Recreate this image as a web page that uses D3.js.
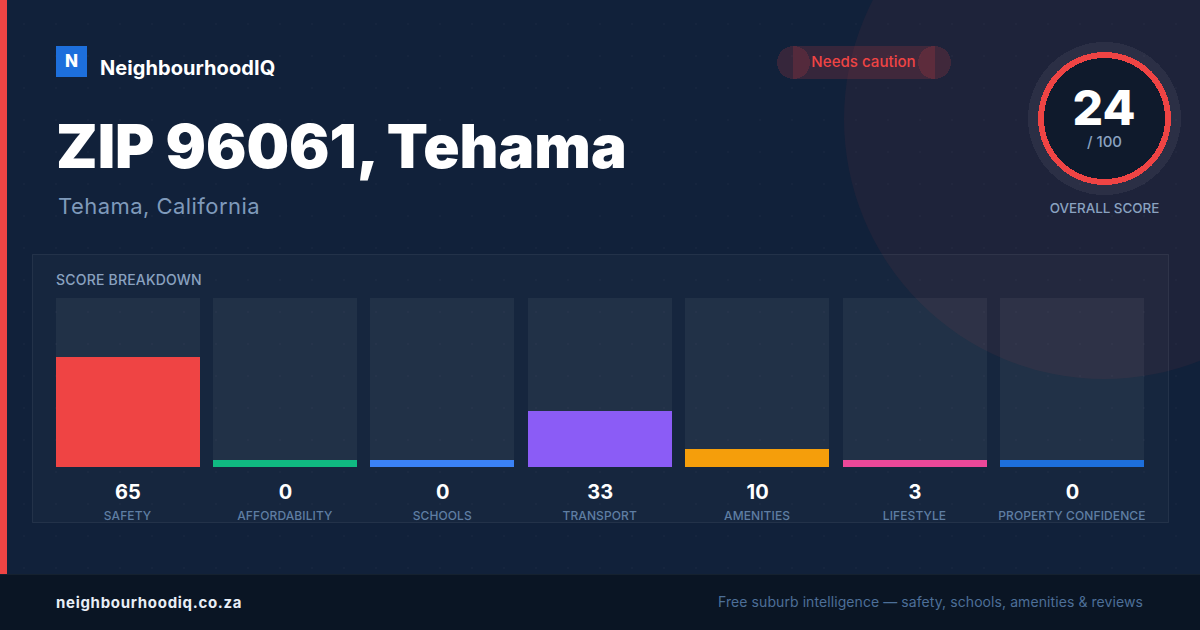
<!DOCTYPE html>
<html>
<head>
<meta charset="utf-8">
<script src="https://cdn.jsdelivr.net/npm/d3@7"></script>
<style>
  html, body { margin: 0; padding: 0; background: #12213a; overflow: hidden; }
  text { font-family: Inter, sans-serif; }
</style>
</head>
<body>
<div id="chart"></div>
<script>
// DATA
const categories = ['SAFETY', 'AFFORDABILITY', 'SCHOOLS', 'TRANSPORT', 'AMENITIES', 'LIFESTYLE', 'PROPERTY CONFIDENCE'];
// amenities bar reads a bit over its printed 10
const scores = [65, 0, 0, 33, 10.4, 3, 0];
const barColors = ['#ef4444', '#10b981', '#3b82f6', '#8b5cf6', '#f59e0b', '#ec4899', '#1d6fdc'];
const overallScore = 24;
const scoreMax = 100;

const width = 1200, height = 630;
const minBar = 7;
const red = '#ef4444';

const svg = d3.select('#chart').append('svg')
  .attr('width', width)
  .attr('height', height)
  .style('display', 'block');

// background + dot pattern
svg.append('rect').attr('width', width).attr('height', height).attr('fill', '#11213a');

const defs = svg.append('defs');
const dots = defs.append('pattern')
  .attr('id', 'dots')
  .attr('width', 32).attr('height', 32)
  .attr('patternUnits', 'userSpaceOnUse')
  .attr('x', 23).attr('y', 23);
dots.append('circle').attr('cx', 1).attr('cy', 1).attr('r', 1).attr('fill', 'rgba(255,255,255,0.025)');

// big circle top right
svg.append('circle')
  .attr('cx', 1104).attr('cy', 119).attr('r', 260)
  .attr('fill', 'rgba(239,68,68,0.06)');

svg.append('rect').attr('width', width).attr('height', 574).attr('fill', 'url(#dots)');

// left accent and footer
svg.append('rect').attr('width', 7).attr('height', 574).attr('fill', red);
svg.append('rect').attr('y', 574).attr('width', width).attr('height', 56).attr('fill', '#0a1524');
svg.append('rect').attr('y', 574).attr('width', width).attr('height', 1).attr('fill', '#15212f');

// logo
svg.append('rect').attr('x', 56).attr('y', 46).attr('width', 31).attr('height', 31).attr('fill', '#1d6fdc');
svg.append('text').attr('x', 71.5).attr('y', 67).attr('text-anchor', 'middle')
  .attr('font-size', 17).attr('font-weight', 800).attr('fill', '#fff').text('N');
svg.append('text').attr('x', 100).attr('y', 75)
  .attr('font-size', 20).attr('font-weight', 700).attr('letter-spacing', 0.07).attr('fill', '#fff').text('NeighbourhoodIQ');

// title
svg.append('text').attr('x', 56).attr('y', 168)
  .attr('font-size', 60).attr('font-weight', 900).attr('word-spacing', -1).attr('fill', '#fff').text('ZIP 96061, Tehama');
svg.append('text').attr('x', 58).attr('y', 214)
  .attr('font-size', 22).attr('fill', '#7f9abb').attr('letter-spacing', 0.45).text('Tehama, California');

// status pill, drawn as overlapping translucent pieces
const pill = svg.append('g').attr('fill', 'rgba(239,68,68,0.17)').attr('shape-rendering', 'crispEdges');
pill.append('rect').attr('x', 793).attr('y', 46).attr('width', 142).attr('height', 33);
pill.append('circle').attr('cx', 793.5).attr('cy', 62.5).attr('r', 16.5);
pill.append('circle').attr('cx', 934.5).attr('cy', 62.5).attr('r', 16.5);
svg.append('text').attr('x', 863.5).attr('y', 67).attr('text-anchor', 'middle')
  .attr('font-size', 15.1).attr('font-weight', 500).attr('fill', red).text('Needs caution');

// score ring
svg.append('circle').attr('cx', 1104.5).attr('cy', 118.5).attr('r', 76.5)
  .attr('fill', 'rgba(255,255,255,0.06)').attr('shape-rendering', 'crispEdges');
svg.append('circle').attr('cx', 1104.5).attr('cy', 118.5).attr('r', 66.5)
  .attr('fill', red).attr('shape-rendering', 'crispEdges');
svg.append('circle').attr('cx', 1104.5).attr('cy', 118.5).attr('r', 60.5)
  .attr('fill', '#0f1a2c').attr('shape-rendering', 'crispEdges');
svg.append('text').attr('x', 1104).attr('y', 125).attr('text-anchor', 'middle')
  .attr('font-size', 48).attr('font-weight', 800).attr('fill', '#fff').text(overallScore);
svg.append('text').attr('x', 1104.5).attr('y', 147).attr('text-anchor', 'middle')
  .attr('font-size', 15).attr('font-weight', 500).attr('fill', '#8aa2c0').text('/ ' + scoreMax);
svg.append('text').attr('x', 1104.5).attr('y', 213).attr('text-anchor', 'middle')
  .attr('font-size', 13.4).attr('font-weight', 500).attr('fill', '#8aa2c0').text('OVERALL SCORE');

// breakdown panel
svg.append('rect').attr('x', 32.5).attr('y', 254.5).attr('width', 1136).attr('height', 268)
  .attr('fill', 'rgba(255,255,255,0.025)').attr('stroke', 'rgba(255,255,255,0.07)');
svg.append('text').attr('x', 56).attr('y', 285)
  .attr('font-size', 14).attr('font-weight', 500).attr('letter-spacing', 0.2).attr('fill', '#8aa2c0').text('SCORE BREAKDOWN');

const x = d3.scaleBand().domain(categories).range([56, 1144.4]).paddingInner(13.4 / 157.4);
const y = d3.scaleLinear().domain([0, scoreMax]).range([467, 298]);
const barW = Math.round(x.bandwidth());

const cols = svg.append('g').selectAll('g')
  .data(categories)
  .enter().append('g');

cols.append('rect')
  .attr('x', d => Math.floor(x(d))).attr('y', y(scoreMax))
  .attr('width', barW).attr('height', y(0) - y(scoreMax))
  .attr('fill', 'rgba(255,255,255,0.05)');

cols.append('rect')
  .attr('x', d => Math.floor(x(d)))
  .attr('y', (d, i) => y(0) - Math.round(Math.max(y(0) - y(scores[i]), minBar)))
  .attr('width', barW)
  .attr('height', (d, i) => Math.round(Math.max(y(0) - y(scores[i]), minBar)))
  .attr('fill', (d, i) => barColors[i]);

cols.append('text')
  .attr('x', d => x(d) + barW / 2).attr('y', 499)
  .attr('text-anchor', 'middle')
  .attr('font-size', 20).attr('font-weight', 700).attr('fill', '#fff')
  .text((d, i) => Math.round(scores[i]));

cols.append('text')
  .attr('x', d => x(d) + barW / 2 - 0.5).attr('y', 520)
  .attr('text-anchor', 'middle')
  .attr('font-size', 12).attr('font-weight', 500).attr('letter-spacing', 0.1).attr('fill', '#5f7ea3')
  .text(d => d);

// footer text
svg.append('text').attr('x', 56).attr('y', 608)
  .attr('font-size', 15).attr('font-weight', 700).attr('fill', '#e8eef6').attr('letter-spacing', 0.7).text('neighbourhoodiq.co.za');
svg.append('text').attr('x', 1143).attr('y', 607).attr('text-anchor', 'end')
  .attr('font-size', 14).attr('fill', '#4d6f98').attr('letter-spacing', 0.08).text('Free suburb intelligence — safety, schools, amenities & reviews');
</script>
</body>
</html>
